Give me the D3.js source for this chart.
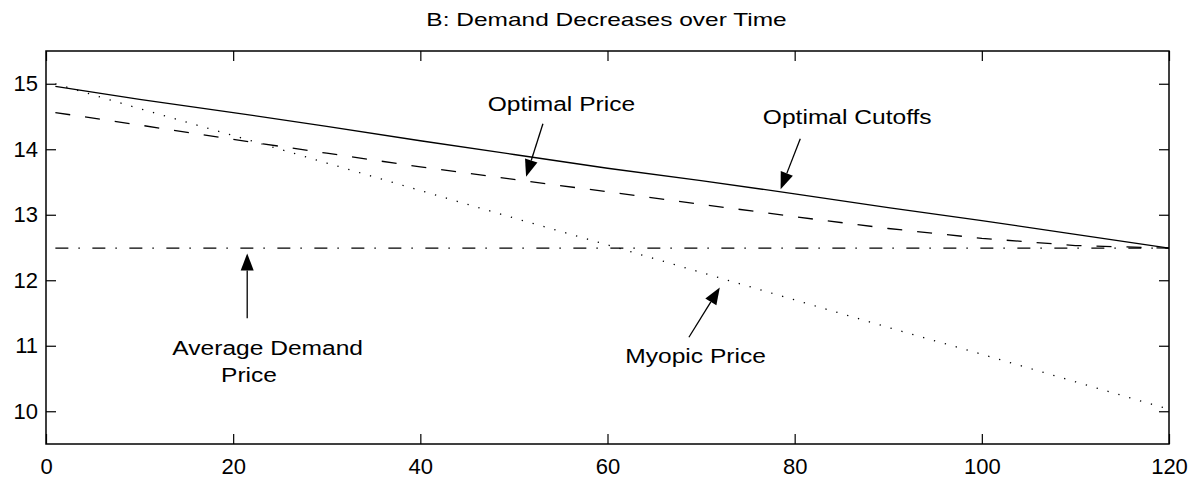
<!DOCTYPE html>
<html>
<head>
<meta charset="utf-8">
<script src="https://cdn.jsdelivr.net/npm/d3@7"></script>
<style>
	body { margin: 0; background: #fff; }
	text { font-family: "Liberation Sans", Arial, sans-serif; fill: #000; }
</style>
</head>
<body>
<div id="chart"></div>
<script>
// time periods and the four price paths
var periods = [1, 10, 20, 30, 40, 50, 60, 70, 80, 90, 100, 110, 120];
var optimalCutoffs = [14.96, 14.76, 14.56, 14.35, 14.13, 13.92, 13.71, 13.52, 13.32, 13.11, 12.91, 12.70, 12.49];
var optimalPrice = [14.56, 14.37, 14.15, 13.94, 13.73, 13.54, 13.35, 13.16, 12.97, 12.79, 12.64, 12.53, 12.49];
var myopicPrice = [15.00, 14.62, 14.21, 13.79, 13.37, 12.95, 12.54, 12.12, 11.70, 11.28, 10.87, 10.45, 10.03];
var averagePrice = [12.49, 12.49, 12.49, 12.49, 12.49, 12.49, 12.49, 12.49, 12.49, 12.49, 12.49, 12.49, 12.49];

var xTicks = [0, 20, 40, 60, 80, 100, 120];
var yTicks = [10, 11, 12, 13, 14, 15];

var width = 1196, height = 481;
var margin = {left: 46, right: 27, top: 51, bottom: 37};

var svg = d3.select("#chart").append("svg")
	.attr("width", width)
	.attr("height", height);

var x = d3.scaleLinear().domain([0, 120]).range([margin.left, width - margin.right]);
var y = d3.scaleLinear().domain([9.5, 15.5]).range([height - margin.bottom, margin.top]);

// title
svg.append("text")
	.attr("transform", "translate(" + (x(60) - 1) + ",26) scale(1.36,1)")
	.attr("text-anchor", "middle")
	.style("font-size", "18px")
	.text("B: Demand Decreases over Time");

// axes, ticks pointing inward on all four sides
var fmt = d3.format("d");
svg.append("g")
	.attr("transform", "translate(0," + y.range()[0] + ")")
	.call(d3.axisBottom(x).tickValues(xTicks).tickFormat(fmt).tickSizeInner(-10).tickSizeOuter(0).tickPadding(14));
svg.append("g")
	.attr("transform", "translate(" + x.range()[0] + ",0)")
	.call(d3.axisLeft(y).tickValues(yTicks).tickFormat(fmt).tickSizeInner(-10).tickSizeOuter(0).tickPadding(8));
svg.append("g")
	.attr("transform", "translate(0," + y.range()[1] + ")")
	.call(d3.axisTop(x).tickValues(xTicks).tickSizeInner(-10).tickSizeOuter(0).tickFormat(""));
svg.append("g")
	.attr("transform", "translate(" + x.range()[1] + ",0)")
	.call(d3.axisRight(y).tickValues(yTicks).tickSizeInner(-10).tickSizeOuter(0).tickFormat(""));

svg.selectAll(".domain").remove();
svg.selectAll(".tick line").attr("stroke", "#000").attr("stroke-width", 1.2);
svg.selectAll(".tick text")
	.style("font-size", "22px")
	.style("font-family", "'Liberation Sans', Arial, sans-serif")
	.attr("fill", "#000");

// plot frame
svg.append("rect")
	.attr("x", x.range()[0])
	.attr("y", y.range()[1])
	.attr("width", x.range()[1] - x.range()[0])
	.attr("height", y.range()[0] - y.range()[1])
	.attr("fill", "none")
	.attr("stroke", "#000")
	.attr("stroke-width", 1.5);

// lines
var series = [
	{name: "cutoffs", values: optimalCutoffs, dash: null, width: 1.3},
	{name: "optimal", values: optimalPrice, dash: "15,15", width: 1.3},
	{name: "myopic", values: myopicPrice, dash: "1.3,10", width: 1.3},
	{name: "average", values: averagePrice, dash: "13,10,1.5,12.5", width: 1.2}
];

var line = d3.line()
	.x(function(d, i){ return x(periods[i]); })
	.y(function(d){ return y(d); });

svg.selectAll(".series")
	.data(series)
	.enter().append("path")
	.attr("class", "series")
	.attr("d", function(d){ return line(d.values); })
	.attr("fill", "none")
	.attr("stroke", "#000")
	.attr("stroke-width", function(d){ return d.width; })
	.attr("stroke-dasharray", function(d){ return d.dash; });

// annotations, placed in data units
var notes = [
	{lines: ["Optimal Price"], at: [47.2, 14.59], tail: [53.1, 14.39], tip: [51.3, 13.58]},
	{lines: ["Optimal Cutoffs"], at: [76.6, 14.38], tail: [80.6, 14.16], tip: [78.5, 13.39]},
	{lines: ["Average Demand", "Price"], at: [13.5, 10.86], at2: [18.7, 10.45], tail: [21.5, 11.42], tip: [21.5, 12.41]},
	{lines: ["Myopic Price"], at: [61.9, 10.74], tail: [68.7, 11.13], tip: [72.0, 11.89]}
];

var headLen = 17, headHalf = 6.5;

notes.forEach(function(n){
	var tx = x(n.tail[0]), ty = y(n.tail[1]);
	var px = x(n.tip[0]), py = y(n.tip[1]);
	var dx = px - tx, dy = py - ty;
	var len = Math.sqrt(dx * dx + dy * dy);
	var ux = dx / len, uy = dy / len;
	var bx = px - ux * headLen, by = py - uy * headLen;

	svg.append("line")
		.attr("x1", tx).attr("y1", ty)
		.attr("x2", bx).attr("y2", by)
		.attr("stroke", "#000")
		.attr("stroke-width", 1.3);

	svg.append("path")
		.attr("d", "M" + px + "," + py +
			"L" + (bx - uy * headHalf) + "," + (by + ux * headHalf) +
			"L" + (bx + uy * headHalf) + "," + (by - ux * headHalf) + "Z")
		.attr("fill", "#000");

	svg.append("text")
		.attr("transform", "translate(" + x(n.at[0]) + "," + y(n.at[1]) + ") scale(1.17,1)")
		.style("font-size", "21px")
		.text(n.lines[0]);
	if (n.lines.length > 1) {
		svg.append("text")
			.attr("transform", "translate(" + x(n.at2[0]) + "," + y(n.at2[1]) + ") scale(1.17,1)")
			.style("font-size", "21px")
			.text(n.lines[1]);
	}
});
</script>
</body>
</html>
